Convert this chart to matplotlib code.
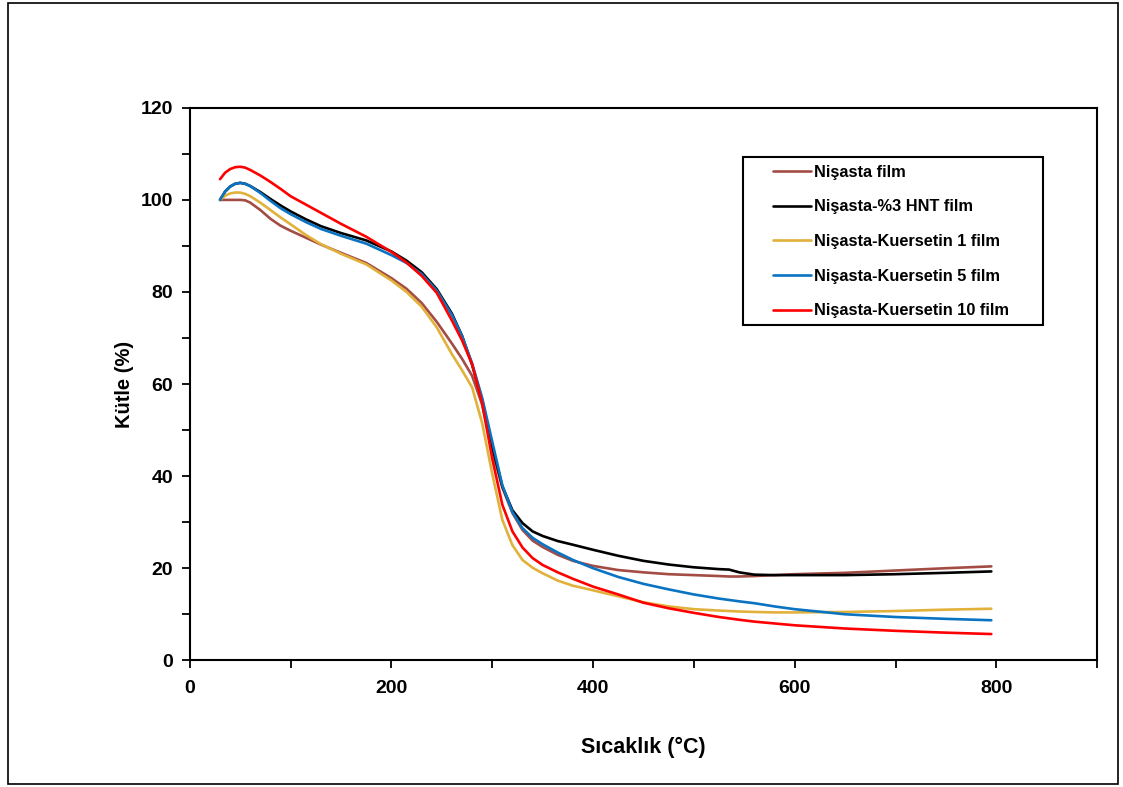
import matplotlib.pyplot as plt
from matplotlib.patches import Rectangle
from matplotlib.ticker import MultipleLocator

plt.rcParams['font.family'] = ['Liberation Sans', 'DejaVu Sans']
plt.rcParams['font.weight'] = 'bold'

# sıcaklık noktaları (°C)
sicaklik = [30, 35, 40, 45, 50, 55, 60, 70, 80, 90, 100, 115, 130, 150, 175, 200,
            215, 230, 245, 260, 270, 280, 290, 300, 310, 320, 330, 340, 350, 365,
            380, 400, 425, 450, 475, 500, 525, 535, 545, 560, 580, 600, 650, 700,
            750, 795]

nisasta = [100, 100, 100, 100, 100, 99.9, 99.4, 97.8, 95.9, 94.4, 93.3, 91.8, 90.3, 88.5, 86.3, 83.0,
           80.7, 77.6, 73.5, 68.8, 65.5, 61.8, 55.5, 45.5, 37.5, 32.0, 28.3, 26.0, 24.6, 22.9,
           21.6, 20.5, 19.6, 19.1, 18.7, 18.5, 18.3, 18.2, 18.2, 18.3, 18.5, 18.7, 19.0, 19.5,
           20.0, 20.4]
hnt = [100, 101.8, 102.9, 103.5, 103.7, 103.5, 103.0, 101.7, 100.2, 98.8, 97.5, 95.8, 94.3, 92.8, 91.2, 88.8,
       86.8, 84.3, 80.6, 75.3, 70.5, 64.2, 56.5, 46.5, 37.8, 32.6, 29.8, 28.0, 27.0, 25.9,
       25.1, 24.0, 22.7, 21.6, 20.8, 20.2, 19.8, 19.7, 19.1, 18.6, 18.5, 18.5, 18.5, 18.7,
       19.0, 19.3]
kuersetin1 = [100, 100.9, 101.4, 101.6, 101.6, 101.3, 100.8, 99.4, 97.8, 96.2, 94.7, 92.4, 90.4, 88.3, 86.0, 82.5,
              80.0, 76.8, 72.3, 66.5, 63.0, 59.3, 51.5, 40.5, 30.5, 25.0, 21.8, 20.1, 18.9, 17.3,
              16.2, 15.2, 13.9, 12.6, 11.7, 11.1, 10.8, 10.7, 10.6, 10.5, 10.4, 10.4, 10.5, 10.7,
              11.0, 11.2]
kuersetin5 = [100, 101.8, 102.9, 103.5, 103.7, 103.5, 103.0, 101.5, 99.8, 98.2, 96.9, 95.2, 93.7, 92.2, 90.5, 88.0,
              86.3, 83.9, 80.3, 75.0, 70.5, 64.5, 57.0, 47.5, 38.0, 32.2, 28.7, 26.6, 25.2, 23.4,
              21.8, 20.0, 18.1, 16.6, 15.4, 14.3, 13.4, 13.1, 12.8, 12.4, 11.7, 11.1, 10.0, 9.4,
              9.0, 8.7]
kuersetin10 = [104.5, 105.9, 106.7, 107.1, 107.2, 107.0, 106.5, 105.3, 103.9, 102.4, 100.8, 99.0, 97.2, 94.8, 92.0, 88.7,
               86.4, 83.5, 79.8, 73.8, 69.5, 64.3, 55.8, 43.8, 33.8, 28.0, 24.5, 22.2, 20.7, 19.1,
               17.7, 16.0, 14.3, 12.5, 11.3, 10.3, 9.4, 9.1, 8.8, 8.4, 8.0, 7.6, 6.9, 6.4,
               6.0, 5.7]

seriler = [
    ('Nişasta film', nisasta, '#A34C44'),
    ('Nişasta-%3 HNT film', hnt, '#000000'),
    ('Nişasta-Kuersetin 1 film', kuersetin1, '#E2B13C'),
    ('Nişasta-Kuersetin 5 film', kuersetin5, '#0A73C2'),
    ('Nişasta-Kuersetin 10 film', kuersetin10, '#FF0000'),
]

fig = plt.figure(figsize=(11.23, 7.87), dpi=100)
ax = fig.add_axes([0.169, 0.161, 0.808, 0.702])

for etiket, kutle, renk in seriler:
    ax.plot(sicaklik, kutle, color=renk, lw=1.9, label=etiket,
            solid_joinstyle='round', solid_capstyle='round')

ax.set_xlim(0, 900)
ax.set_ylim(0, 120)
ax.xaxis.set_major_locator(MultipleLocator(200))
ax.xaxis.set_minor_locator(MultipleLocator(100))
ax.yaxis.set_major_locator(MultipleLocator(20))
ax.yaxis.set_minor_locator(MultipleLocator(10))
ax.tick_params(which='both', direction='out', length=6, width=1.3,
               labelsize=14, top=False, right=False)
ax.tick_params(axis='x', pad=8)
ax.tick_params(axis='y', pad=6)
for s in ax.spines.values():
    s.set_linewidth(1.5)

ax.set_xlabel('Sıcaklık (°C)', fontsize=15.5, fontweight='bold', labelpad=29)
ax.set_ylabel('Kütle (%)', fontsize=14.5, fontweight='bold', labelpad=5)

ax.legend(loc='upper left', bbox_to_anchor=(0.643, 0.897), frameon=False,
          borderpad=0, borderaxespad=0, handlelength=2.3, handletextpad=0.2,
          labelspacing=1.2, prop={'size': 11.8, 'weight': 'bold'})
ax.add_patch(Rectangle((0.61, 0.607), 0.33, 0.304, transform=ax.transAxes,
                       fill=False, edgecolor='black', lw=1.5, zorder=5))

fig.patches.append(Rectangle((0.007, 0.004), 0.9885, 0.992, transform=fig.transFigure,
                             fill=False, edgecolor='black', lw=1.2))

fig.savefig('out.png', dpi=100)
